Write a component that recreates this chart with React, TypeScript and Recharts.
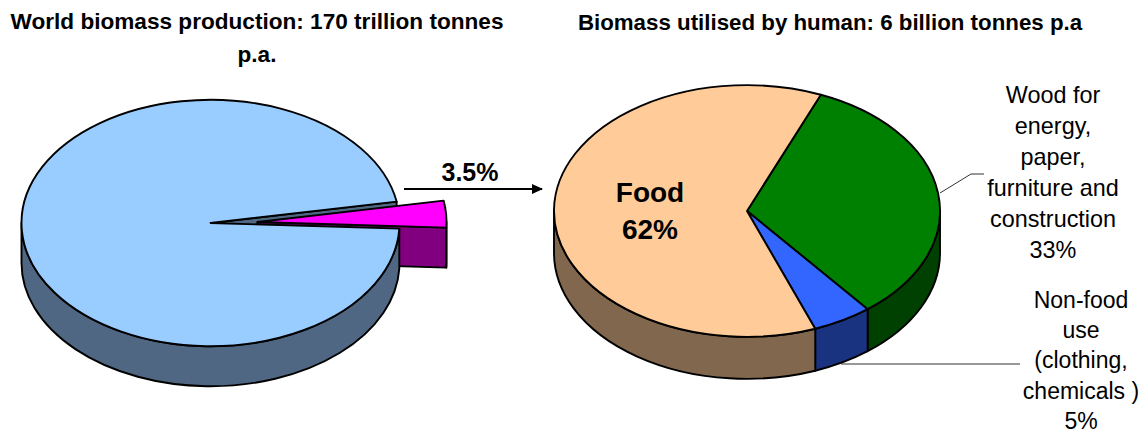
import React from 'react';
import {PieChart, Pie} from 'recharts';

// world biomass: harvested part is pulled out of the pie
const worldNames = ['Utilised', 'Rest'];
const worldValues = [3.5, 96.5];
const worldTop = ['#FF00FF', '#99CCFF'];
const worldSide = ['#800080', '#4F6782'];

const humanNames = ['Wood', 'Non-food', 'Food'];
const humanValues = [33, 5, 62];
const humanTop = ['#008000', '#3366FF', '#FFCC99'];
const humanSide = ['#004000', '#1A3380', '#80674D'];

const worldTitle = ['World biomass production: 170 trillion tonnes', 'p.a.'];
const humanTitle = ['Biomass utilised by human: 6 billion tonnes p.a'];
const woodLabel = ['Wood for', 'energy,', 'paper,', 'furniture and', 'construction', '33%'];
const nonFoodLabel = ['Non-food', 'use', '(clothing,', 'chemicals )', '5%'];
const foodLabel = ['Food', '62%'];

const TILT = 0.652;
const DEPTH_LEFT = 40;
const DEPTH_RIGHT = 42;
const PULL_DX = 47;
const PULL_DY = -1;
const STROKE = 1.9;

const toTable = (names: string[], values: number[]) => names.map((name, i) => ({name, value: values[i]}));
const worldData = toTable(worldNames, worldValues);
const humanData = toTable(humanNames, humanValues);

const at = (cx: number, cy: number, r: number, deg: number) => {
    const a = (deg * Math.PI) / 180;
    return [cx + r * Math.cos(a), cy - r * TILT * Math.sin(a)];
};

const topPath = (cx: number, cy: number, r: number, a0: number, a1: number) => {
    const [x0, y0] = at(cx, cy, r, a0);
    const [x1, y1] = at(cx, cy, r, a1);
    const large = a0 - a1 > 180 ? 1 : 0;
    return `M${cx},${cy}L${x0},${y0}A${r},${r * TILT} 0 ${large} 1 ${x1},${y1}Z`;
};

// only the front half of the rim can be seen
const rimPath = (cx: number, cy: number, r: number, a0: number, a1: number, depth: number) => {
    const from = Math.min(a0, 0);
    const to = Math.max(a1, -180);
    if (from <= to) return '';
    const [x0, y0] = at(cx, cy, r, from);
    const [x1, y1] = at(cx, cy, r, to);
    const rr = `${r},${r * TILT}`;
    return `M${x0},${y0}A${rr} 0 0 1 ${x1},${y1}L${x1},${y1 + depth}A${rr} 0 0 0 ${x0},${y0 + depth}Z`;
};

const wallPath = (cx: number, cy: number, r: number, deg: number, depth: number) => {
    const [x, y] = at(cx, cy, r, deg);
    return `M${cx},${cy}L${x},${y}L${x},${y + depth}L${cx},${cy + depth}Z`;
};

const line = {stroke: '#000', strokeWidth: STROKE, strokeLinejoin: 'round' as const};

// back cut face of the big slice, seen through the gap
const worldBackWall = (p: any) => p.index !== 1 ? <g/> : (
    <path d={wallPath(p.cx, p.cy, p.outerRadius, p.endAngle, DEPTH_LEFT)} fill={worldSide[1]} {...line}/>
);

const worldPulled = (p: any) => {
    if (p.index !== 0) return <g/>;
    const cx = p.cx + PULL_DX;
    const cy = p.cy + PULL_DY;
    const r = p.outerRadius;
    return (
        <g>
            <path d={wallPath(cx, cy, r, p.endAngle, DEPTH_LEFT)} fill={worldSide[0]} {...line}/>
            <path d={rimPath(cx, cy, r, p.startAngle, p.endAngle, DEPTH_LEFT)} fill={worldSide[0]} {...line}/>
            <path d={topPath(cx, cy, r, p.startAngle, p.endAngle)} fill={worldTop[0]} {...line}/>
        </g>
    );
};

const worldMain = (p: any) => {
    if (p.index !== 1) return <g/>;
    return (
        <g>
            <path d={rimPath(p.cx, p.cy, p.outerRadius, p.startAngle, p.endAngle, DEPTH_LEFT)} fill={worldSide[1]} {...line}/>
            <path d={topPath(p.cx, p.cy, p.outerRadius, p.startAngle, p.endAngle)} fill={worldTop[1]} {...line}/>
        </g>
    );
};

const humanSlice = (p: any) => (
    <g>
        <path d={rimPath(p.cx, p.cy, p.outerRadius, p.startAngle, p.endAngle, DEPTH_RIGHT)} fill={humanSide[p.index]} {...line}/>
        <path d={topPath(p.cx, p.cy, p.outerRadius, p.startAngle, p.endAngle)} fill={humanTop[p.index]} {...line}/>
    </g>
);

const Lines = ({rows, x, y, step, size, bold}: any) => (
    <text textAnchor="middle" fontFamily="Liberation Sans" fontSize={size} fontWeight={bold ? 700 : 400} fill="#000">
        {rows.map((row: string, i: number) => <tspan key={row} x={x} y={y + i * step}>{row}</tspan>)}
    </text>
);

// the pie's own label layer sits above the slices
const foodText = (p: any) => p.index !== 2 ? <g/> : (
    <Lines rows={foodLabel} x={p.cx - 97} y={p.cy - 9} step={37} size={28} bold/>
);

const pieProps = {dataKey: 'value', isAnimationActive: false, stroke: 'none', legendType: 'none' as const};

export default function App() {
    return (
        <div style={{position: 'absolute', left: 0, top: 0, width: 1146, height: 434, background: '#fff'}}>
            <PieChart width={1146} height={434} margin={{top: 0, right: 0, bottom: 0, left: 0}}>
                <defs>
                    <marker id="head" markerWidth="11" markerHeight="10" refX="10" refY="5" orient="auto" markerUnits="userSpaceOnUse">
                        <path d="M0,0L11,5L0,10Z" fill="#000"/>
                    </marker>
                </defs>
                <Pie {...pieProps} data={worldData} cx={210.5} cy={223} outerRadius={189} startAngle={10} endAngle={-350} shape={worldBackWall}/>
                <Pie {...pieProps} data={worldData} cx={210.5} cy={223} outerRadius={189} startAngle={10} endAngle={-350} shape={worldPulled}/>
                <Pie {...pieProps} data={worldData} cx={210.5} cy={223} outerRadius={189} startAngle={10} endAngle={-350} shape={worldMain}/>
                <Pie {...pieProps} data={humanData} cx={747} cy={211} outerRadius={193} startAngle={67.5} endAngle={-292.5} shape={humanSlice} label={foodText} labelLine={false}/>
                <Lines rows={worldTitle} x={257} y={29} step={33} size={22.6} bold/>
                <Lines rows={humanTitle} x={830} y={30} step={35} size={22.3} bold/>
                <Lines rows={['3.5%']} x={470} y={181} step={0} size={25} bold/>
                <Lines rows={woodLabel} x={1053} y={103} step={31} size={23.4}/>
                <Lines rows={nonFoodLabel} x={1081} y={308} step={30.2} size={23}/>
                <line x1={404} y1={189} x2={542} y2={189} stroke="#000" strokeWidth={1.9} markerEnd="url(#head)"/>
                <polyline points="940,193 971,174 984,174" fill="none" stroke="#333" strokeWidth={1}/>
                <line x1={841} y1={364} x2={1020} y2={364} stroke="#333" strokeWidth={1}/>
            </PieChart>
        </div>
    );
}
